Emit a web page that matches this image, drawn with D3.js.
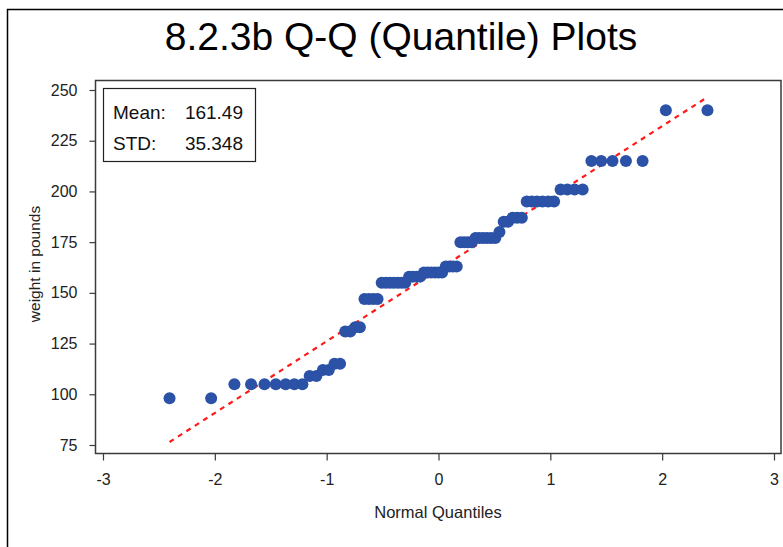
<!DOCTYPE html>
<html>
<head>
<meta charset="utf-8">
<script src="https://cdn.jsdelivr.net/npm/d3@7"></script>
<style>
  html, body { margin: 0; padding: 0; background: #fff; }
  svg { display: block; font-family: "Liberation Sans", Arial, sans-serif; }
</style>
</head>
<body>
<svg id="chart" width="783" height="547"></svg>
<script>
// Sorted weights (pounds), n = 77
const weights = [
  98, 98,
  105, 105, 105, 105, 105, 105, 105,
  109, 109,
  112, 112,
  115, 115,
  131, 131,
  133, 133,
  147, 147, 147, 147,
  155, 155, 155, 155, 155, 155, 155,
  158, 158, 158, 158,
  160, 160, 160, 160, 160, 160,
  163, 163, 163, 163,
  175, 175, 175, 175,
  177, 177, 177, 177, 177, 177,
  180,
  185, 185,
  187, 187, 187,
  195, 195, 195, 195, 195, 195,
  201, 201, 201, 201,
  215, 215, 215, 215, 215,
  240, 240
];

// Normal quantiles paired with the sorted weights (Blom positions)
const quantiles = [
  -2.405, -2.033, -1.825, -1.676, -1.556, -1.455, -1.367, -1.289, -1.217, -1.152,
  -1.092, -1.034, -0.981, -0.930, -0.880, -0.834, -0.789, -0.745, -0.703, -0.662,
  -0.622, -0.583, -0.545, -0.508, -0.471, -0.435, -0.400, -0.365, -0.331, -0.297,
  -0.263, -0.229, -0.196, -0.163, -0.130, -0.097, -0.065, -0.032, 0.000,
   0.032,  0.065,  0.097,  0.130,  0.163,  0.196,  0.229,  0.263,  0.297,  0.331,
   0.365,  0.400,  0.435,  0.471,  0.508,  0.545,  0.583,  0.622,  0.662,  0.703,
   0.745,  0.789,  0.834,  0.880,  0.930,  0.981,  1.034,  1.092,  1.152,  1.217,
   1.289,  1.367,  1.455,  1.556,  1.676,  1.825,  2.033,  2.405
];

const xTicks = [-3, -2, -1, 0, 1, 2, 3];
const yTicks = [75, 100, 125, 150, 175, 200, 225, 250];

const title = "8.2.3b Q-Q (Quantile) Plots";
const xLabel = "Normal Quantiles";
const yLabel = "weight in pounds";
const statLabels = ["Mean:", "STD:"];
const statValues = ["161.49", "35.348"];
const mean = 161.49;
const std = 35.348;

const svg = d3.select("#chart");

const x = d3.scaleLinear().domain([-3, 3]).range([103, 774]);
const y = d3.scaleLinear().domain([75, 250]).range([445, 90]);

// outer border of the graph
svg.append("rect")
  .attr("x", 7.5).attr("y", 9.5)
  .attr("width", 800).attr("height", 560)
  .attr("fill", "none").attr("stroke", "#000").attr("stroke-width", 1.5);

// title
svg.append("text")
  .attr("x", 401).attr("y", 50)
  .attr("text-anchor", "middle")
  .attr("font-size", 39)
  .attr("fill", "#000")
  .text(title);

// plot frame
const fx0 = 95.5, fx1 = 781, fy0 = 80.5, fy1 = 453.5;
svg.append("rect")
  .attr("x", fx0).attr("y", fy0)
  .attr("width", fx1 - fx0).attr("height", fy1 - fy0)
  .attr("fill", "none").attr("stroke", "#3a3a3a").attr("stroke-width", 1.5);

// axes
const yAxis = d3.axisLeft(y).tickValues(yTicks).tickSize(6).tickPadding(12);
const xAxis = d3.axisBottom(x).tickValues(xTicks).tickSize(7).tickPadding(13)
  .tickFormat(d3.format("d"));

const gy = svg.append("g").attr("transform", `translate(${fx0},0)`).call(yAxis);
const gx = svg.append("g").attr("transform", `translate(0,${fy1})`).call(xAxis);
[gx, gy].forEach(g => {
  g.select(".domain").remove();
  g.selectAll(".tick line").attr("stroke", "#3a3a3a").attr("stroke-width", 1.2);
  g.selectAll(".tick text")
    .attr("font-family", "'Liberation Sans', Arial, sans-serif")
    .attr("font-size", 16).attr("fill", "#222");
});
gx.selectAll(".tick text").text(d => d < 0 ? "-" + Math.abs(d) : d);

// axis labels
svg.append("text")
  .attr("x", 438).attr("y", 518)
  .attr("text-anchor", "middle")
  .attr("font-size", 16.5).attr("fill", "#222")
  .text(xLabel);

svg.append("text")
  .attr("transform", "translate(40,264) rotate(-90)")
  .attr("text-anchor", "middle")
  .attr("font-size", 15.5).attr("fill", "#222")
  .text(yLabel);

// reference line: mean + std * z
const zMin = d3.min(quantiles), zMax = d3.max(quantiles);
svg.append("line")
  .attr("x1", x(zMin)).attr("y1", y(mean + std * zMin))
  .attr("x2", x(zMax)).attr("y2", y(mean + std * zMax))
  .attr("stroke", "#ff1a1a").attr("stroke-width", 2.2)
  .attr("stroke-dasharray", "5,5");

// points
svg.append("g").selectAll("circle")
  .data(weights.map((w, i) => ({ z: quantiles[i], w })))
  .join("circle")
  .attr("cx", d => x(d.z))
  .attr("cy", d => y(d.w))
  .attr("r", 6)
  .attr("fill", "#2b52a6");

// statistics inset
const inset = svg.append("g");
inset.append("rect")
  .attr("x", 103.5).attr("y", 88.5)
  .attr("width", 152).attr("height", 73)
  .attr("fill", "#fff").attr("stroke", "#222").attr("stroke-width", 1.2);
statLabels.forEach((s, i) => {
  inset.append("text")
    .attr("x", 113).attr("y", 119 + i * 31)
    .attr("font-size", 19).attr("fill", "#111")
    .text(s);
  inset.append("text")
    .attr("x", 243).attr("y", 119 + i * 31)
    .attr("text-anchor", "end")
    .attr("font-size", 19).attr("fill", "#111")
    .text(statValues[i]);
});
</script>
</body>
</html>
